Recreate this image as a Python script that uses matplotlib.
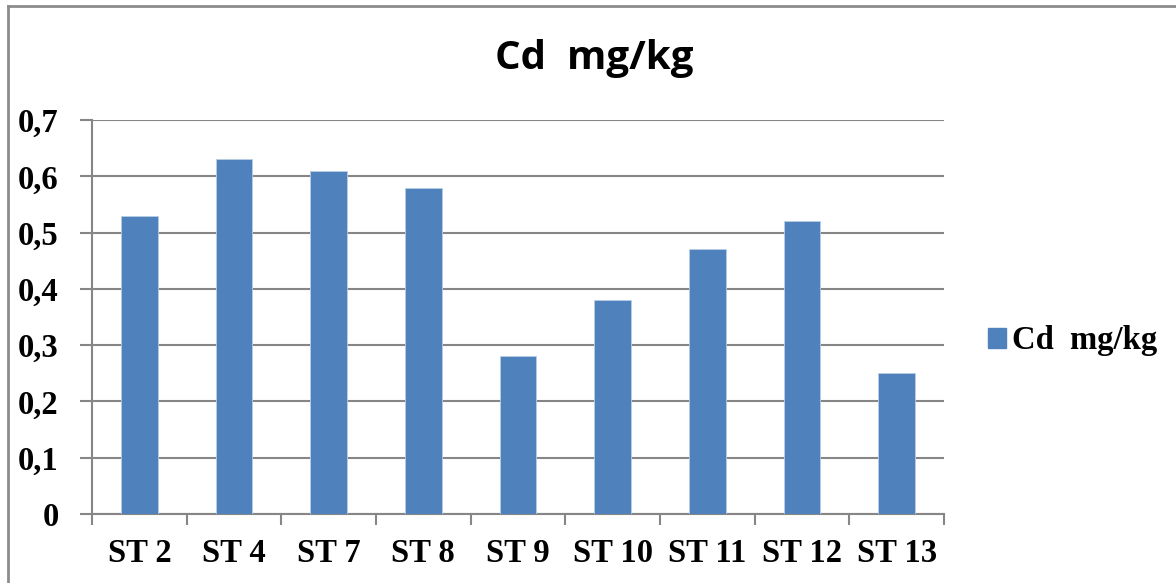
import numpy as np
import matplotlib
matplotlib.use('Agg')
import matplotlib.pyplot as plt
from matplotlib.lines import Line2D
from matplotlib.patches import Patch
from matplotlib.ticker import FuncFormatter

# Cadmium concentration per station
stations = ['ST 2', 'ST 4', 'ST 7', 'ST 8', 'ST 9', 'ST 10', 'ST 11', 'ST 12', 'ST 13']
cd_values = [0.53, 0.63, 0.61, 0.58, 0.28, 0.38, 0.47, 0.52, 0.25]
series_name = 'Cd  mg/kg'

W, H = 1176, 583
fig = plt.figure(figsize=(W / 100, H / 100), dpi=100)

bar_color = '#4F81BD'
grid_color = '#868686'
serif = ['Liberation Serif', 'DejaVu Serif']

ax = fig.add_axes([92 / W, 1 - 514 / H, (944 - 92) / W, (514 - 120) / H])
x = np.arange(len(stations))
ax.bar(x, cd_values, width=0.39, color=bar_color, edgecolor='#B9CDE5', linewidth=0.6, zorder=3)

ax.set_xlim(-0.5, len(stations) - 0.5)
ax.set_ylim(0, 0.7)
ax.set_yticks(np.arange(0, 0.71, 0.1))
ax.yaxis.set_major_formatter(FuncFormatter(lambda v, p: '0' if abs(v) < 1e-9 else f'{v:.1f}'.replace('.', ',')))
ax.grid(axis='y', color=grid_color, linewidth=1.5, zorder=0)

ax.set_xticks(x)
ax.set_xticklabels(stations)
ax.set_xticks(np.arange(-0.5, len(stations), 1.0), minor=True)
ax.tick_params(axis='x', which='major', length=0, pad=17)
ax.tick_params(axis='x', which='minor', length=8, width=1.5, color=grid_color)
ax.tick_params(axis='y', length=9, width=1.5, color=grid_color, pad=15)

for lab in ax.get_xticklabels() + ax.get_yticklabels():
    lab.set_family(serif)
    lab.set_fontweight('bold')
    lab.set_fontsize(23.5)

for s in ['top', 'right']:
    ax.spines[s].set_visible(False)
for s in ['left', 'bottom']:
    ax.spines[s].set_color(grid_color)
    ax.spines[s].set_linewidth(1.5)

fig.text(594 / W, 1 - 59 / H, series_name, ha='center', va='center',
         fontsize=29, fontweight='bold', family=['Open Sans', 'DejaVu Sans'])

handle = Patch(facecolor=bar_color, edgecolor=bar_color)
fig.legend([handle], [series_name], loc='center left', bbox_to_anchor=(988 / W, 1 - 341 / H),
           frameon=False, borderpad=0, borderaxespad=0,
           handlelength=0.55, handleheight=0.55, handletextpad=0.2,
           prop={'family': serif, 'weight': 'bold', 'size': 23.5})

# outer chart frame
fig.add_artist(Line2D([8 / W, 8 / W], [1 - 6 / H, 0], transform=fig.transFigure, color='#8C8C8C', linewidth=2))
fig.add_artist(Line2D([8 / W, 1], [1 - 6 / H, 1 - 6 / H], transform=fig.transFigure, color='#8C8C8C', linewidth=2))

fig.savefig('out.png', dpi=100)
